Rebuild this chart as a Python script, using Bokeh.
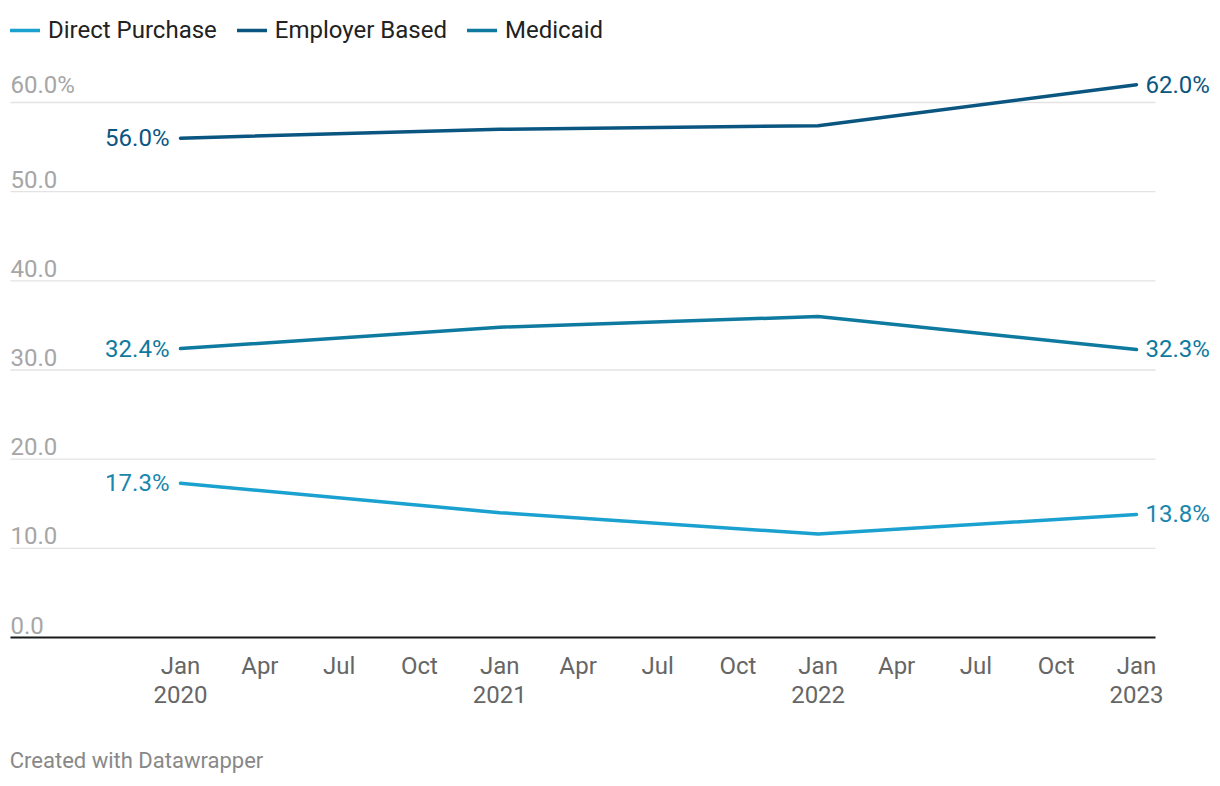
import pandas as pd
from bokeh.plotting import figure
from bokeh.models import (ColumnDataSource, Range1d, FixedTicker, Legend, LegendItem, DatetimeAxis)
from bokeh.core.properties import value
from bokeh.embed import file_html
from bokeh.resources import INLINE

# ---- data ----
dates = ["2020-01-01", "2021-01-01", "2022-01-01", "2023-01-01"]
direct_purchase = [17.3, 14.0, 11.6, 13.8]
employer_based = [56.0, 57.0, 57.4, 62.0]
medicaid = [32.4, 34.8, 36.0, 32.3]
series_names = ["Direct Purchase", "Employer Based", "Medicaid"]
line_colors = ["#1aa1cf", "#0a5681", "#0e7aa0"]
label_colors = ["#1a86ad", "#0a5681", "#0e7aa0"]
y_ticks = [0, 10, 20, 30, 40, 50, 60]
y_tick_labels = ["0.0", "10.0", "20.0", "30.0", "40.0", "50.0", "60.0%"]
x_tick_dates = pd.date_range("2020-01-01", "2023-01-01", freq="QS")
x_tick_labels = ["Jan\n2020", "Apr", "Jul", "Oct", "Jan\n2021", "Apr", "Jul", "Oct",
                 "Jan\n2022", "Apr", "Jul", "Oct", "Jan\n2023"]
footer = "Created with Datawrapper"

FONT = "Roboto"
FS = "24px"
x = pd.to_datetime(dates)
day = pd.Timedelta(days=1)

x_start = x[0] - 206.35 * day
x_end = x[-1] + 96.3 * day
grid_x0 = x[0] - 194.9 * day
grid_x1 = x[-1] + 21.8 * day
foot_center = x[0] - 50.4 * day

p = figure(width=1220, height=786, output_backend="svg", toolbar_location=None,
           x_axis_type="datetime",
           x_range=Range1d(x_start, x_end), y_range=Range1d(-0.336, 71.44),
           min_border_left=0, min_border_right=0, min_border_top=0, min_border_bottom=146)
p.outline_line_color = None
p.background_fill_color = "white"
p.border_fill_color = "white"
p.xgrid.visible = False
p.ygrid.visible = False
p.yaxis.visible = False

# grid lines
gsrc = ColumnDataSource(dict(x0=[grid_x0] * len(y_ticks), x1=[grid_x1] * len(y_ticks),
                             y=y_ticks,
                             c=["#1a1a1a" if t == 0 else "#e3e3e3" for t in y_ticks],
                             w=[2 if t == 0 else 1.3 for t in y_ticks]))
p.segment(x0="x0", y0="y", x1="x1", y1="y", line_color="c", line_width="w", source=gsrc)

# y tick labels
tsrc = ColumnDataSource(dict(x=[grid_x0] * len(y_ticks), y=y_ticks, t=y_tick_labels))
p.text(x="x", y="y", text="t", source=tsrc, text_font=value(FONT), text_font_size=FS,
       text_color="#a6a6a6", text_baseline="bottom", text_align="left", y_offset=-4)

# lines
series = [direct_purchase, employer_based, medicaid]
items = []
for name, vals, lc, tc in zip(series_names, series, line_colors, label_colors):
    r = p.line(x, vals, line_color=lc, line_width=3.5, line_cap="round", line_join="round")
    items.append(LegendItem(label=name, renderers=[r]))
    p.text([x[0]], [vals[0]], text=[f"{vals[0]:.1f}%"], text_font=value(FONT),
           text_font_size=FS, text_color=tc, text_align="right",
           text_baseline="middle", x_offset=-11)
    p.text([x[-1]], [vals[-1]], text=[f"{vals[-1]:.1f}%"], text_font=value(FONT),
           text_font_size=FS, text_color=tc, text_align="left",
           text_baseline="middle", x_offset=9)

legend = Legend(items=items, orientation="horizontal", location=(10, 596),
                label_text_font=FONT, label_text_font_size=FS,
                label_text_color="#222222", glyph_width=30, glyph_height=20,
                label_standoff=8, spacing=20, padding=0, margin=0,
                border_line_color=None, background_fill_alpha=0)
p.add_layout(legend)

# x axis
p.xaxis.ticker = FixedTicker(ticks=[d.value / 1e6 for d in x_tick_dates])
p.xaxis.major_label_overrides = {d.value / 1e6: lab for d, lab in zip(x_tick_dates, x_tick_labels)}
p.xaxis.axis_line_color = None
p.xaxis.major_tick_line_color = None
p.xaxis.minor_tick_line_color = None
p.xaxis.major_label_text_font = FONT
p.xaxis.major_label_text_font_size = FS
p.xaxis.major_label_text_color = "#666666"
p.xaxis.major_label_standoff = 5
p.xaxis.major_label_text_line_height = 1.05

# footer line, as a second (label-only) axis below the first
foot_tick = foot_center.value / 1e6
foot_axis = DatetimeAxis(ticker=FixedTicker(ticks=[foot_tick]),
                         major_label_overrides={foot_tick: footer},
                         axis_line_color=None, major_tick_line_color=None,
                         minor_tick_line_color=None, major_tick_out=0, minor_tick_out=0,
                         major_label_standoff=36,
                         major_label_text_font=FONT, major_label_text_font_size="22px",
                         major_label_text_color="#888888")
p.add_layout(foot_axis, "below")

open("out.html", "w").write(file_html(p, INLINE))
